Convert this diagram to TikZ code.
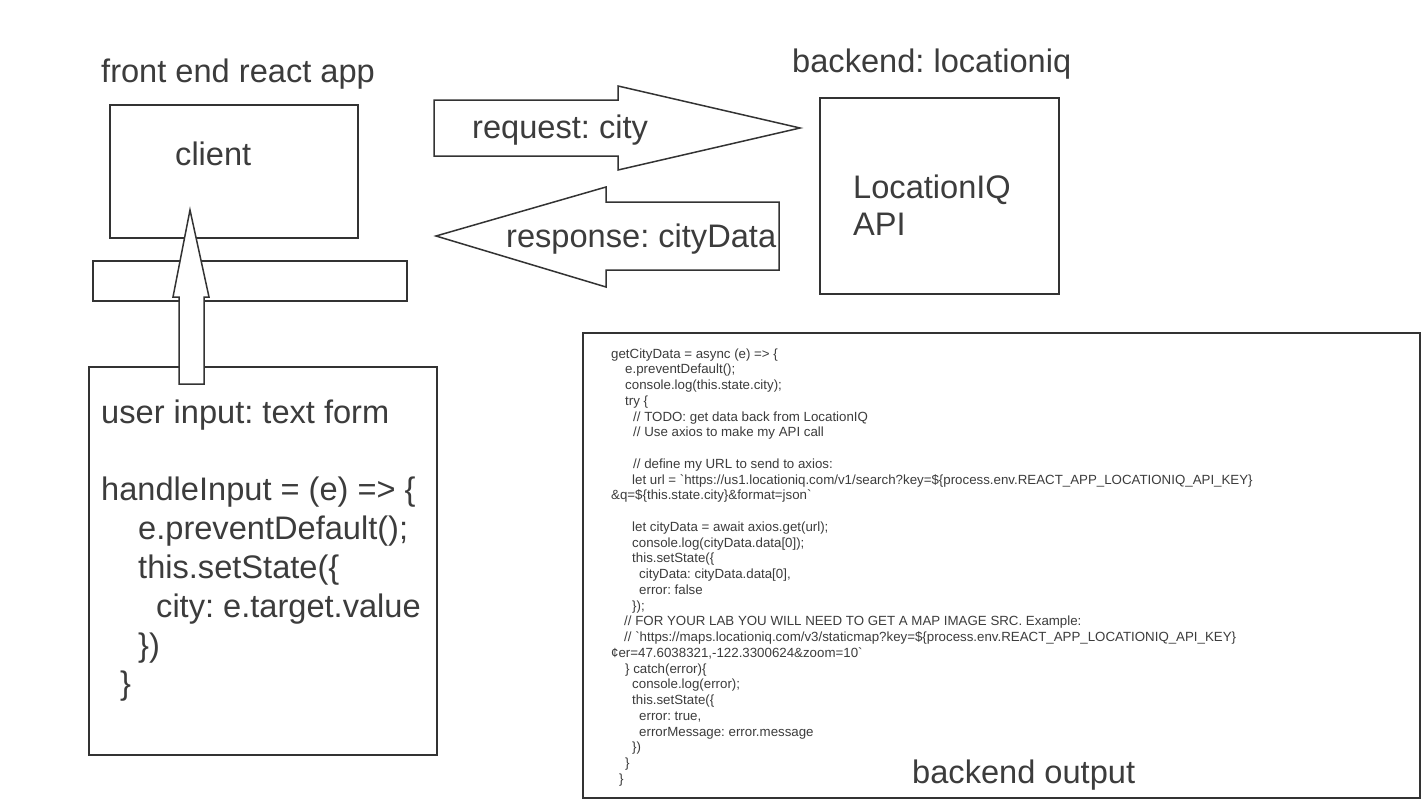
\documentclass[tikz,border=0pt]{standalone}
\usepackage{fontspec}
\setmainfont{Liberation Sans}
\newfontfamily\codefont{Liberation Sans}[Ligatures=TeXOff]
\frenchspacing
\definecolor{linec}{HTML}{333333}
\definecolor{textc}{HTML}{3C3C3C}
\tikzset{
  box/.style={draw=linec, line width=1.5pt},
  blockarrow/.style={draw=linec, line width=1.5pt, fill=white, line join=miter},
  big/.style={anchor=base west, inner sep=0pt, text=textc, font=\fontsize{32.6}{38}\selectfont},
  codetext/.style={anchor=base west, inner sep=0pt, text=textc, font=\codefont\fontsize{13.3}{15}\selectfont},
}
\newcommand\codeline[4]{\node[codetext] (#1) at (#2,{358+15.75*(#3-1)}) {#4};}
\begin{document}
\begin{tikzpicture}[x=1pt,y=-1pt]
\useasboundingbox (0,0) rectangle (1422,800);
\fill[white] (0,0) rectangle (1422,800);

% titles
\node[big] (tfront) at (101,82) {front end react app};
\node[big] (tback) at (792,73) {backend: locationiq};

% client box and bar
\draw[box] (110,105) rectangle (358,238);
\node[big] (client) at (175,165) {client};
\draw[box] (93,261) rectangle (407,301);

% user input box
\draw[box] (89,367) rectangle (437,755);
\node[big] (u1) at (101,423) {user input: text form};
\node[big] (u2) at (101,500) {handleInput = (e) => \{};
\node[big] (u3) at (138,539) {e.preventDefault();};
\node[big] (u4) at (138,578) {this.setState(\{};
\node[big] (u5) at (156,617) {city: e.target.value};
\node[big] (u6) at (138,656) {\})};
\node[big] (u7) at (120,694) {\}};

% up arrow
\draw[blockarrow] (179,384) -- (179,297) -- (173,297) -- (190,210) -- (209,297) -- (204,297) -- (204,384) -- cycle;

% request arrow
\draw[blockarrow] (434,100) -- (618,100) -- (618,86) -- (800,128) -- (618,170) -- (618,156) -- (434,156) -- cycle;
\node[big] (req) at (472,138) {request: city};

% response arrow
\draw[blockarrow] (779,202) -- (606,202) -- (606,187) -- (436,236) -- (606,287) -- (606,270) -- (779,270) -- cycle;
\node[big] (resp) at (506,247) {response: cityData};

% LocationIQ box
\draw[box] (820,98) rectangle (1059,294);
\node[big] (liq1) at (853,198) {LocationIQ};
\node[big] (liq2) at (853,235) {API};

% code box
\draw[draw=linec, line width=2pt] (583,333) rectangle (1420,798);
\codeline{c1}{611}{1}{getCityData = async (e) => \{}
\codeline{c2}{625}{2}{e.preventDefault();}
\codeline{c3}{625}{3}{console.log(this.state.city);}
\codeline{c4}{625}{4}{try \{}
\codeline{c5}{633}{5}{// TODO: get data back from LocationIQ}
\codeline{c6}{633}{6}{// Use axios to make my API call}
\codeline{c8}{633}{8}{// define my URL to send to axios:}
\codeline{c9}{632}{9}{let url = `https://us1.locationiq.com/v1/search?key=\$\{process.env.REACT\_APP\_LOCATIONIQ\_API\_KEY\}}
\codeline{c10}{611}{10}{\&q=\$\{this.state.city\}\&format=json`}
\codeline{c12}{632}{12}{let cityData = await axios.get(url);}
\codeline{c13}{632}{13}{console.log(cityData.data[0]);}
\codeline{c14}{632}{14}{this.setState(\{}
\codeline{c15}{639}{15}{cityData: cityData.data[0],}
\codeline{c16}{639}{16}{error: false}
\codeline{c17}{632}{17}{\});}
\codeline{c18}{624}{18}{// FOR YOUR LAB YOU WILL NEED TO GET A MAP IMAGE SRC. Example:}
\codeline{c19}{624}{19}{// `https://maps.locationiq.com/v3/staticmap?key=\$\{process.env.REACT\_APP\_LOCATIONIQ\_API\_KEY\}}
\codeline{c20}{611}{20}{¢er=47.6038321,-122.3300624\&zoom=10`}
\codeline{c21}{625}{21}{\} catch(error)\{}
\codeline{c22}{632}{22}{console.log(error);}
\codeline{c23}{632}{23}{this.setState(\{}
\codeline{c24}{639}{24}{error: true,}
\codeline{c25}{639}{25}{errorMessage: error.message}
\codeline{c26}{632}{26}{\})}
\codeline{c27}{625}{27}{\}}
\codeline{c28}{619}{28}{\}}
\node[big] (bout) at (912,783) {backend output};
\end{tikzpicture}
\end{document}
